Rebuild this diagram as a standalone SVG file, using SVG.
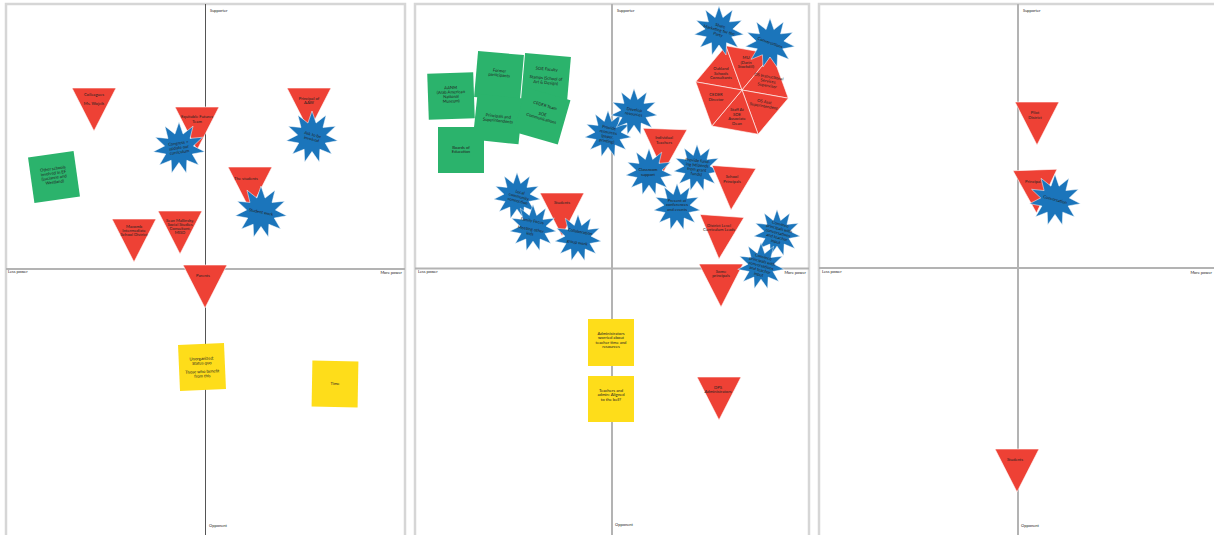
<svg xmlns="http://www.w3.org/2000/svg" width="1214" height="535" viewBox="0 0 1214 535">
<style>
.bg{fill:#fff}
.frame{fill:none;stroke:#d6d6d6;stroke-width:2.5}
.hax{stroke:#b3b3b3;stroke-width:2}
.vax1{stroke:#555;stroke-width:1}
.vax{stroke:#b3b3b3;stroke-width:2}
.lbl{font-family:"Lato","Liberation Sans",sans-serif;font-size:4px;fill:#222}
.lblr{font-family:"Lato","Liberation Sans",sans-serif;font-size:4px;fill:#222;text-anchor:end}
.red{fill:#ee4135;stroke:#fff;stroke-width:0.6}
.blue{fill:#1b75bb;stroke:#fff;stroke-width:0.5}
.green{fill:#2bb36c}
.yellow{fill:#fedd1a}
.t{font-family:"Lato","Liberation Sans",sans-serif;font-size:4.2px;fill:#222;text-anchor:middle}
</style>
<defs>
<polygon id="star" points="0,-25 3.94,-13.43 13.52,-21.03 10.58,-9.17 22.74,-10.39 13.86,-1.99 24.75,3.56 12.73,5.82 18.89,16.37 7.57,11.78 7.04,23.99 0,14 -7.04,23.99 -7.57,11.78 -18.89,16.37 -12.73,5.82 -24.75,3.56 -13.86,-1.99 -22.74,-10.39 -10.58,-9.17 -13.52,-21.03 -3.94,-13.43"/>
<polygon id="tri" points="-22,0 22,0 0,43"/>
<rect id="sq" x="-23" y="-23" width="46" height="46"/>
</defs>
<rect class="bg" x="0" y="0" width="1214" height="535"/>

<g id="panels">
<rect class="frame" x="6" y="4" width="399" height="540"/>
<rect class="frame" x="415" y="4" width="394" height="540"/>
<rect class="frame" x="819" y="4" width="400" height="540"/>
</g>

<g id="connectors">
<line class="hax" x1="6" y1="269" x2="405" y2="269"/>
<line class="vax1" x1="205.5" y1="4" x2="205.5" y2="535"/>
<line class="hax" x1="415" y1="268.5" x2="809" y2="268.5"/>
<line class="vax" x1="612" y1="4" x2="612" y2="535"/>
<line class="hax" x1="819" y1="268" x2="1214" y2="268"/>
<line class="vax" x1="1018" y1="4" x2="1018" y2="535"/>
</g>

<g id="axis-labels">
<text class="lbl" x="210" y="12">Supporter</text>
<text class="lbl" x="8" y="273">Less power</text>
<text class="lblr" x="402" y="274">More power</text>
<text class="lbl" x="209" y="527">Opponent</text>
<text class="lbl" x="617" y="12">Supporter</text>
<text class="lbl" x="418" y="273">Less power</text>
<text class="lblr" x="806" y="274">More power</text>
<text class="lbl" x="615" y="526">Opponent</text>
<text class="lbl" x="1023" y="12">Supporter</text>
<text class="lbl" x="822" y="273">Less power</text>
<text class="lblr" x="1212" y="274">More power</text>
<text class="lbl" x="1021" y="527">Opponent</text>
</g>

<!-- Panel 1 -->
<g id="p1-colleagues"><use href="#tri" class="red" transform="translate(94,88)"/><text class="t" x="94" y="96">Colleagues</text><text class="t" x="94" y="104.5">Ms. Wojcik</text></g>
<g id="p1-equitable"><use href="#tri" class="red" transform="translate(197,107)"/><text class="t" x="197" y="118">Equitable Futures</text><text class="t" x="197" y="122.5">Team</text></g>
<g id="p1-congress"><use href="#star" class="blue" transform="translate(179,148) scale(1.04)"/><g transform="rotate(-8 179 148)"><text class="t" x="179" y="144.5">Congress +</text><text class="t" x="179" y="149">update our</text><text class="t" x="179" y="153.5">curriculum</text></g></g>
<g id="p1-otherschools"><use href="#sq" class="green" transform="translate(54,177) rotate(-8)"/><g transform="rotate(-8 54 177)"><text class="t" x="54" y="170">Other schools</text><text class="t" x="54" y="174.5">involved in EF</text><text class="t" x="54" y="179">(Lucianne and</text><text class="t" x="54" y="183.5">Westland)</text></g></g>
<g id="p1-principal"><use href="#tri" class="red" transform="translate(309,88)"/><text class="t" x="309" y="99.5">Principal of</text><text class="t" x="309" y="104">AAW</text></g>
<g id="p1-ask"><use href="#star" class="blue" transform="translate(312,137) scale(1.04)"/><g transform="rotate(15 312 137)"><text class="t" x="312" y="136">Ask to be</text><text class="t" x="312" y="140.5">involved</text></g></g>
<g id="p1-students"><use href="#tri" class="red" transform="translate(250,167)"/><text class="t" x="246" y="179.5">The students</text></g>
<g id="p1-studentwork"><use href="#star" class="blue" transform="translate(261,212) scale(1.04)"/><text class="t" x="261" y="213.5" transform="rotate(12 261 212)">Student work</text></g>
<g id="p1-macomb"><use href="#tri" class="red" transform="translate(134,219)"/><text class="t" x="134" y="228">Macomb</text><text class="t" x="134" y="232">Intermediate</text><text class="t" x="134" y="236">School District</text></g>
<g id="p1-sean"><use href="#tri" class="red" transform="translate(180,211)"/><text class="t" x="180" y="221.5">Sean Mallinsky,</text><text class="t" x="180" y="225.5">Social Studies</text><text class="t" x="180" y="229.5">Consultant,</text><text class="t" x="180" y="233.5">MISD</text></g>
<g id="p1-parents"><use href="#tri" class="red" transform="translate(205,265)"/><text class="t" x="203" y="277">Parents</text></g>
<g id="p1-unorganized"><use href="#sq" class="yellow" transform="translate(202,367) rotate(-2.5)"/><g transform="rotate(-2.5 202 367)"><text class="t" x="202" y="360">Unorganized:</text><text class="t" x="202" y="364.5">Status quo</text><text class="t" x="202" y="373">Those who benefit</text><text class="t" x="202" y="377.5">from this</text></g></g>
<g id="p1-time"><use href="#sq" class="yellow" transform="translate(335,384) rotate(1)"/><text class="t" x="335" y="384.5">Time</text></g>

<!-- Panel 2 -->
<g id="p2-aanm"><use href="#sq" class="green" transform="translate(451,96) rotate(-2)"/><g transform="rotate(-2 451 96)"><text class="t" x="451" y="89">AANM</text><text class="t" x="451" y="93.5">(Arab American</text><text class="t" x="451" y="98">National</text><text class="t" x="451" y="102.5">Museum)</text></g></g>
<g id="p2-former"><use href="#sq" class="green" transform="translate(499,76) rotate(5)"/><g transform="rotate(5 499 76)"><text class="t" x="499" y="72">Former</text><text class="t" x="499" y="76.5">participants</text></g></g>
<g id="p2-soe"><use href="#sq" class="green" transform="translate(546,78) rotate(5)"/><g transform="rotate(5 546 78)"><text class="t" x="546" y="70.5">SOE Faculty</text><text class="t" x="546" y="79.5">Stamps (School of</text><text class="t" x="546" y="84">Art &amp; Design)</text></g></g>
<g id="p2-principals"><use href="#sq" class="green" transform="translate(498,119) rotate(6)"/><g transform="rotate(6 498 119)"><text class="t" x="498" y="117.5">Principals and</text><text class="t" x="498" y="122">Superintendents</text></g></g>
<g id="p2-ceder"><use href="#sq" class="green" transform="translate(542,116) rotate(16)"/><g transform="rotate(16 542 116)"><text class="t" x="542" y="106.5">CEDER Team</text><text class="t" x="542" y="115.5">SOE</text><text class="t" x="542" y="120">Communications</text></g></g>
<g id="p2-boards"><use href="#sq" class="green" transform="translate(461,150)"/><text class="t" x="461" y="148.5">Boards of</text><text class="t" x="461" y="153">Education</text></g>

<g id="p2-local"><use href="#star" class="blue" transform="translate(517,196) scale(0.94)"/><g transform="rotate(15 517 196)"><text class="t" x="519" y="193">Local</text><text class="t" x="519" y="197.5">community</text><text class="t" x="519" y="202">connection</text></g></g>
<g id="p2-students"><use href="#tri" class="red" transform="translate(562,193)"/><text class="t" x="562" y="203.5">Students</text></g>
<g id="p2-family"><use href="#star" class="blue" transform="translate(533,228) scale(0.94)"/><g transform="rotate(10 533 228)"><text class="t" x="531" y="222.5">Family Focus</text><text class="t" x="531" y="231">Meeting other</text><text class="t" x="531" y="235.5">kids</text></g></g>
<g id="p2-collab"><use href="#star" class="blue" transform="translate(578,238) scale(0.94)"/><g transform="rotate(10 578 238)"><text class="t" x="579" y="233">Collaboration</text><text class="t" x="578" y="244">group work</text></g></g>

<g id="p2-provide"><use href="#star" class="blue" transform="translate(608,134) scale(0.94)"/><g transform="rotate(10 608 134)"><text class="t" x="608" y="129">Provide</text><text class="t" x="608" y="133.5">resources</text><text class="t" x="608" y="138">(paper,</text><text class="t" x="608" y="142.5">printing)</text></g></g>
<g id="p2-develop"><use href="#star" class="blue" transform="translate(634,112) scale(0.94)"/><g transform="rotate(8 634 112)"><text class="t" x="634" y="111">Develop</text><text class="t" x="634" y="115.5">resources</text></g></g>
<g id="p2-individual"><use href="#tri" class="red" transform="translate(665,129) rotate(2)"/><text class="t" x="664" y="139">Individual</text><text class="t" x="664" y="143.5">Teachers</text></g>
<g id="p2-classroom"><use href="#star" class="blue" transform="translate(649,172) scale(0.94)"/><text class="t" x="648" y="171">Classroom</text><text class="t" x="648" y="175.5">support</text></g>
<g id="p2-funding"><use href="#star" class="blue" transform="translate(697,168) scale(0.94)"/><g transform="rotate(6 697 168)"><text class="t" x="697" y="162">Provide fund-</text><text class="t" x="697" y="166.5">ing (stipends</text><text class="t" x="697" y="171">from grant</text><text class="t" x="697" y="175.5">funds)</text></g></g>
<g id="p2-schoolprincipals"><use href="#tri" class="red" transform="translate(734,167) rotate(4)"/><text class="t" x="732" y="178">School</text><text class="t" x="732" y="182.5">Principals</text></g>
<g id="p2-present"><use href="#star" class="blue" transform="translate(677,207) scale(0.94)"/><text class="t" x="677" y="201.5">Present at</text><text class="t" x="677" y="206">conferences</text><text class="t" x="677" y="210.5">and events</text></g>
<g id="p2-district"><use href="#tri" class="red" transform="translate(722,216) rotate(4)"/><text class="t" x="719" y="226.5">District Level</text><text class="t" x="719" y="231">Curriculum Leads</text></g>
<g id="p2-some"><use href="#tri" class="red" transform="translate(721,264)"/><text class="t" x="721" y="272.5">Some</text><text class="t" x="721" y="277">principals</text></g>
<g id="p2-convince1"><use href="#star" class="blue" transform="translate(777,233) scale(0.94)"/><g transform="rotate(15 777 233)"><text class="t" x="778" y="225">Convince</text><text class="t" x="778" y="229.5">principals with</text><text class="t" x="778" y="234">conversations</text><text class="t" x="778" y="238.5">and teacher</text><text class="t" x="778" y="243">input</text></g></g>
<g id="p2-convince2"><use href="#star" class="blue" transform="translate(761,266) scale(0.94)"/><g transform="rotate(15 761 266)"><text class="t" x="761" y="258">Convince</text><text class="t" x="761" y="262.5">principals with</text><text class="t" x="761" y="267">conversations</text><text class="t" x="761" y="271.5">and teacher</text><text class="t" x="761" y="276">input</text></g></g>

<g id="p2-hexagon">
<polygon class="red" stroke-width="1" points="742,90 695.7,81.8 725.9,45.8"/>
<polygon class="red" stroke-width="1" points="742,90 725.9,45.8 772.2,54"/>
<polygon class="red" stroke-width="1" points="742,90 772.2,54 788.3,98.2"/>
<polygon class="red" stroke-width="1" points="742,90 788.3,98.2 758.1,134.2"/>
<polygon class="red" stroke-width="1" points="742,90 758.1,134.2 711.8,126"/>
<polygon class="red" stroke-width="1" points="742,90 711.8,126 695.7,81.8"/>
<text class="t" x="721" y="70">Oakland</text><text class="t" x="721" y="74.5">Schools</text><text class="t" x="721" y="79">Consultants</text>
<text class="t" x="746" y="59">MU</text><text class="t" x="746" y="63.5">(Darin</text><text class="t" x="746" y="68">Stockdill)</text>
<g transform="rotate(10 768 81)"><text class="t" x="768" y="78">OS Instructional</text><text class="t" x="768" y="82.5">Services</text><text class="t" x="768" y="87">Supervisor</text></g>
<g transform="rotate(10 764 104)"><text class="t" x="764" y="103">OS Asst</text><text class="t" x="764" y="107.5">Superintendent</text></g>
<text class="t" x="737" y="111">Staff At</text><text class="t" x="737" y="115.5">SOE</text><text class="t" x="737" y="120">Associate</text><text class="t" x="737" y="124.5">Dean</text>
<text class="t" x="716" y="96">CEDER</text><text class="t" x="716" y="100.5">Director</text>
</g>
<g id="p2-share"><use href="#star" class="blue" transform="translate(719,31) scale(1)"/><g transform="rotate(15 719 31)"><text class="t" x="719" y="27">Share</text><text class="t" x="719" y="31.5">Marketing for the</text><text class="t" x="719" y="36">Party</text></g></g>
<g id="p2-conversations"><use href="#star" class="blue" transform="translate(770,43) scale(1)"/><text class="t" x="770" y="44" transform="rotate(20 770 43)">Conversations</text></g>

<g id="p2-admins"><rect class="yellow" x="588" y="319" width="46" height="47"/><text class="t" x="611" y="334.5">Administrators</text><text class="t" x="611" y="339">worried about</text><text class="t" x="611" y="343.5">teacher time and</text><text class="t" x="611" y="348">resources</text></g>
<g id="p2-aligned"><rect class="yellow" x="588" y="376" width="46" height="46"/><text class="t" x="611" y="391.5">Teachers and</text><text class="t" x="611" y="396">admin: Aligned</text><text class="t" x="611" y="400.5">to the bell?</text></g>
<g id="p2-dps"><use href="#tri" class="red" transform="translate(719,377)"/><text class="t" x="718" y="388.5">DPS</text><text class="t" x="718" y="393">Administrators</text></g>

<!-- Panel 3 -->
<g id="p3-pilot"><use href="#tri" class="red" transform="translate(1037,102)"/><text class="t" x="1035" y="114">Pilot</text><text class="t" x="1035" y="118.5">District</text></g>
<g id="p3-principal"><use href="#tri" class="red" transform="translate(1035,170) rotate(-2)"/><text class="t" x="1033" y="183">Principal</text></g>
<g id="p3-conversation"><use href="#star" class="blue" transform="translate(1055,200) scale(1.03)"/><text class="t" x="1055" y="201" transform="rotate(15 1055 200)">Conversation</text></g>
<g id="p3-students"><use href="#tri" class="red" transform="translate(1017,449)"/><text class="t" x="1015" y="461">Students</text></g>
</svg>
